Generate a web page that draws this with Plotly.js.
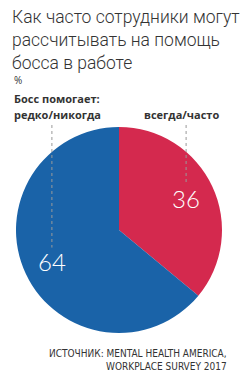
<!DOCTYPE html>
<html><head><meta charset="utf-8">
<script src="https://cdn.plot.ly/plotly-3.0.1.min.js"></script>
<style>body{margin:0;padding:0;background:#fff}#c{width:240px;height:380px}</style>
</head><body><div id="c"></div>
<script>
var titleLines = ["Как часто сотрудники могут", "рассчитывать на помощь", "босса в работе"];
var unitLabel = "%";
var legendTitle = "Босс помогает:";
var categories = ["всегда/часто", "редко/никогда"];
var values = [36, 64];
var colors = ["#d4294e", "#1a63a8"];
var sourceLines = ["ИСТОЧНИК: MENTAL HEALTH AMERICA,", "WORKPLACE SURVEY 2017"];

var W = 240, H = 380;
function px(x){return x/W;}
function py(y){return 1 - y/H;}

// pie geometry (pixels)
var pieL = 16, pieR = 222, pieT = 127, pieB = 333;
var cx = (pieL+pieR)/2, cy = (pieT+pieB)/2, rad = (pieR-pieL)/2;

var annotations = [];
annotations.push({text:titleLines.join('<br>'), xref:'paper', yref:'paper', x:px(10), y:py(5), xanchor:'left', yanchor:'top', align:'left',
  showarrow:false, font:{family:'Roboto, Lato, sans-serif', size:17.5, weight:300, color:'#333'}});
annotations.push({text:unitLabel, xref:'paper', yref:'paper', x:px(12), y:py(80), xanchor:'left', yanchor:'middle',
  showarrow:false, font:{family:'Open Sans, sans-serif', size:10, color:'#333'}});
annotations.push({text:'<b>'+legendTitle+'</b>', xref:'paper', yref:'paper', x:px(12), y:py(98), xanchor:'left', yanchor:'middle',
  showarrow:false, font:{family:'Open Sans, sans-serif', size:11, color:'#333'}});
annotations.push({text:'<b>'+categories[1]+'</b>', xref:'paper', yref:'paper', x:px(12), y:py(115), xanchor:'left', yanchor:'middle',
  showarrow:false, font:{family:'Open Sans, sans-serif', size:11, color:'#333'}});
annotations.push({text:'<b>'+categories[0]+'</b>', xref:'paper', yref:'paper', x:px(221), y:py(115), xanchor:'right', yanchor:'middle',
  showarrow:false, font:{family:'Open Sans, sans-serif', size:11, color:'#333'}});
sourceLines.forEach(function(t,i){
  annotations.push({text:t, xref:'paper', yref:'paper', x:px(229), y:py(353+13*i), xanchor:'right', yanchor:'middle',
    showarrow:false, font:{family:'Liberation Sans Narrow, DejaVu Sans Condensed, sans-serif', size:10, color:'#333'}});
});

// value labels placed at each slice's mid-angle (computed from the data)
var shapes = [];
var total = values.reduce(function(a,b){return a+b;},0);
var cum = 0;
var labelR = 0.72*rad;
values.forEach(function(v,i){
  var mid = (cum + v/2)/total*2*Math.PI; cum += v;
  var lx = cx + labelR*Math.sin(mid), ly = cy - labelR*Math.cos(mid);
  annotations.push({text:String(v), xref:'paper', yref:'paper', x:px(lx), y:py(ly), xanchor:'center', yanchor:'middle',
    showarrow:false, font:{family:'Lato, Open Sans, sans-serif', size:24, weight:300, color:'#fff'}});
  shapes.push({type:'line', xref:'paper', yref:'paper', x0:px(lx), x1:px(lx), y0:py(125), y1:py(ly-14),
    line:{color:'#999', width:1, dash:'dot'}});
});

var data = [{
  type:'pie', values:values, labels:categories, sort:false, direction:'clockwise', rotation:0,
  marker:{colors:colors, line:{width:0}},
  textinfo:'none', hoverinfo:'none', showlegend:false,
  domain:{x:[px(pieL), px(pieR)], y:[py(pieB), py(pieT)]}
}];

var layout = {width:W, height:H, margin:{l:0,r:0,t:0,b:0}, paper_bgcolor:'#fff', plot_bgcolor:'#fff',
  annotations:annotations, shapes:shapes, showlegend:false};
Plotly.newPlot('c', data, layout, {displayModeBar:false, staticPlot:true});
</script></body></html>
